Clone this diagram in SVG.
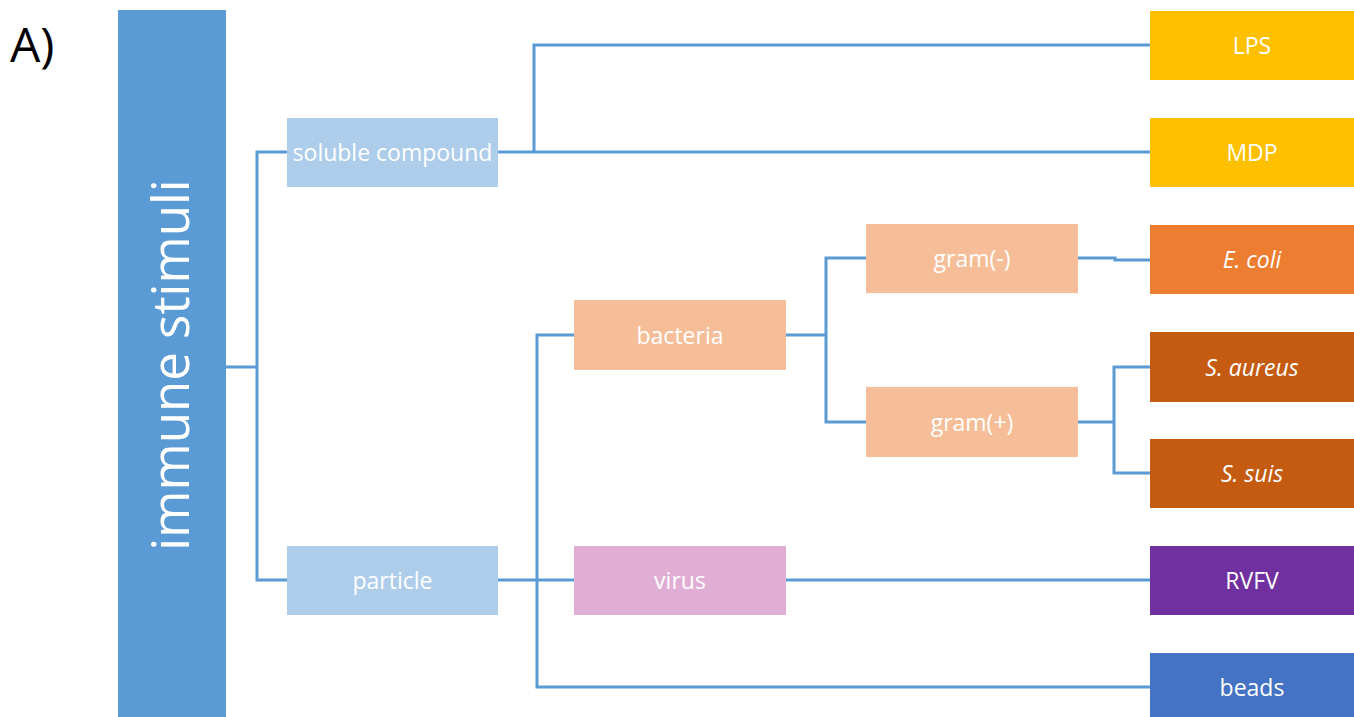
<svg xmlns="http://www.w3.org/2000/svg" width="1354" height="717" viewBox="0 0 1354 717">
  <style>
    .lbl { font-family: "Open Sans", "Liberation Sans", sans-serif; font-size: 23px; fill: #ffffff; text-anchor: middle; dominant-baseline: central; }
    .big { font-size: 51px; }
    .it { font-style: italic; }
    .wire { fill: none; stroke: #5B9BD5; stroke-width: 3; }
  </style>
  <rect width="1354" height="717" fill="#ffffff"/>

  <text x="10" y="62" font-family="'Open Sans', 'Liberation Sans', sans-serif" font-size="48" fill="#000000">A)</text>

  <!-- connectors -->
  <g id="connectors" class="wire">
    <path d="M226,367 H257 M287,152 H257 V580 H287"/>
    <path d="M498,152 H1150 M534,152 V45 H1150"/>
    <path d="M498,580 H574 M574,335 H537 V687 H1150"/>
    <path d="M786,580 H1150"/>
    <path d="M786,335 H826 M866,258 H826 V422 H866"/>
    <path d="M1078,258 H1115 V260 H1150"/>
    <path d="M1078,422 H1114 M1150,367 H1114 V473 H1150"/>
  </g>

  <g id="immune-stimuli">
    <rect x="118" y="10" width="108" height="707" fill="#5B9BD5"/>
    <text class="lbl big" x="0" y="0" transform="translate(169,365) rotate(-90)">immune stimuli</text>
  </g>

  <g id="soluble-compound">
    <rect x="287" y="118" width="211" height="69" fill="#AECDEA"/>
    <text class="lbl" x="392.5" y="152">soluble compound</text>
  </g>
  <g id="particle">
    <rect x="287" y="546" width="211" height="69" fill="#AECDEA"/>
    <text class="lbl" x="392.5" y="580">particle</text>
  </g>
  <g id="bacteria">
    <rect x="574" y="300" width="212" height="70" fill="#F5BE98"/>
    <text class="lbl" x="680" y="334.5">bacteria</text>
  </g>
  <g id="virus">
    <rect x="574" y="546" width="212" height="69" fill="#E0AED4"/>
    <text class="lbl" x="680" y="580">virus</text>
  </g>
  <g id="gram-neg">
    <rect x="866" y="224" width="212" height="69" fill="#F5BE98"/>
    <text class="lbl" x="972" y="258">gram(-)</text>
  </g>
  <g id="gram-pos">
    <rect x="866" y="387" width="212" height="70" fill="#F5BE98"/>
    <text class="lbl" x="972" y="421.5">gram(+)</text>
  </g>

  <g id="lps">
    <rect x="1150" y="11" width="204" height="69" fill="#FFC000"/>
    <text class="lbl" x="1252" y="45">LPS</text>
  </g>
  <g id="mdp">
    <rect x="1150" y="118" width="204" height="69" fill="#FFC000"/>
    <text class="lbl" x="1252" y="152">MDP</text>
  </g>
  <g id="e-coli">
    <rect x="1150" y="225" width="204" height="69" fill="#ED7D31"/>
    <text class="lbl it" x="1252" y="259">E. coli</text>
  </g>
  <g id="s-aureus">
    <rect x="1150" y="332" width="204" height="70" fill="#C55A11"/>
    <text class="lbl it" x="1252" y="366.5">S. aureus</text>
  </g>
  <g id="s-suis">
    <rect x="1150" y="439" width="204" height="69" fill="#C55A11"/>
    <text class="lbl it" x="1252" y="473">S. suis</text>
  </g>
  <g id="rvfv">
    <rect x="1150" y="546" width="204" height="69" fill="#7030A0"/>
    <text class="lbl" x="1252" y="580">RVFV</text>
  </g>
  <g id="beads">
    <rect x="1150" y="653" width="204" height="64" fill="#4472C4"/>
    <text class="lbl" x="1252" y="686.5">beads</text>
  </g>
</svg>
